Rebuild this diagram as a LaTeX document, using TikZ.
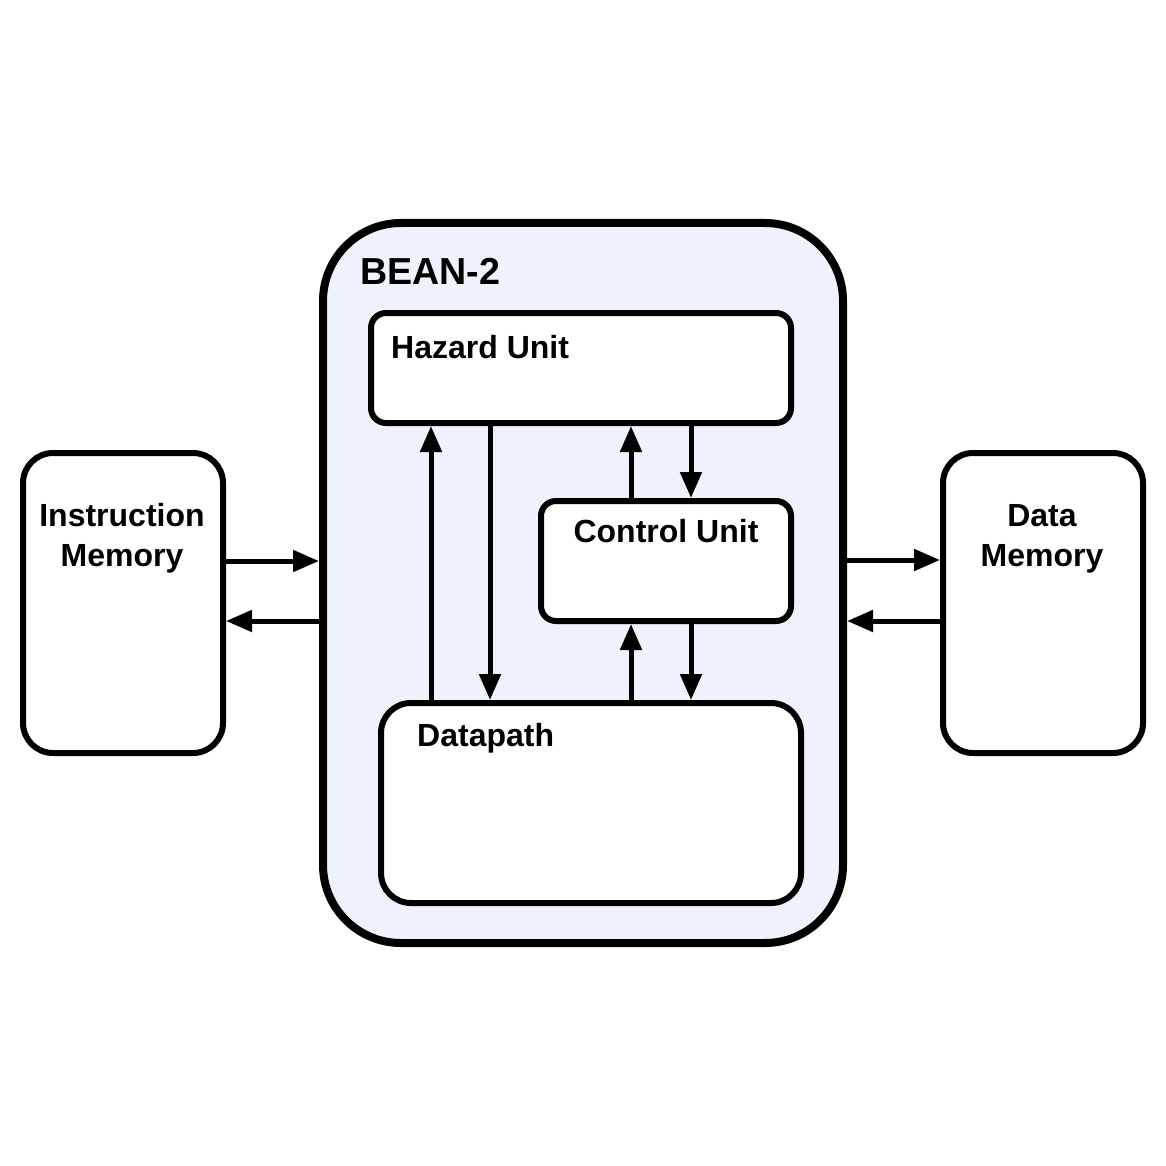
\documentclass[tikz,border=0pt]{standalone}
\usepackage{fontspec}
\setmainfont{Liberation Sans}
\usetikzlibrary{arrows.meta}
\definecolor{beanfill}{RGB}{237,242,252}
\tikzset{
 unitbox/.style={draw=black,line width=6pt,fill=white,inner sep=0pt},
 unitlbl/.style={font=\bfseries\fontsize{32}{40}\selectfont,inner sep=0pt},
 busarrow/.style={line width=5pt,-{Triangle[length=26pt,width=21pt]}}
}
\begin{document}
\begin{tikzpicture}[x=1pt,y=-1pt]
 \useasboundingbox (0,0) rectangle (1166,1166);
 \node[unitbox,line width=8pt,fill=beanfill,rounded corners=78pt,minimum width=520pt,minimum height=720pt] (bean) at (583,583) {};
 \node[unitlbl,font=\bfseries\fontsize{37.6}{44}\selectfont,anchor=base west] (beantxt) at (360,284) {BEAN-2};
 \node[unitbox,rounded corners=15pt,minimum width=420pt,minimum height=110pt] (hazard) at (581,368) {};
 \node[unitlbl,anchor=base west] (hazardtxt) at (391,358) {Hazard Unit};
 \node[unitbox,rounded corners=15pt,minimum width=250pt,minimum height=120pt] (control) at (666,561) {};
 \node[unitlbl,anchor=base] (controltxt) at (666,542) {Control Unit};
 \node[unitbox,rounded corners=30pt,minimum width=420pt,minimum height=200pt] (datapath) at (591,803) {};
 \node[unitlbl,anchor=base west] (datapathtxt) at (417,746) {Datapath};
 \node[unitbox,rounded corners=30pt,minimum width=200pt,minimum height=300pt] (imem) at (123,603) {};
 \node[unitlbl,align=center,anchor=base] (imemtxt) at (122,566) {Instruction\\Memory};
 \node[unitbox,rounded corners=30pt,minimum width=200pt,minimum height=300pt] (dmem) at (1043,603) {};
 \node[unitlbl,align=center,anchor=base] (dmemtxt) at (1042,566) {Data\\Memory};
 \draw[busarrow] (imem.east |- 0,561) -- (bean.west |- 0,561);
 \draw[busarrow] (bean.west |- 0,621) -- (imem.east |- 0,621);
 \draw[busarrow] (bean.east |- 0,560) -- (dmem.west |- 0,560);
 \draw[busarrow] (dmem.west |- 0,621) -- (bean.east |- 0,621);
 \draw[busarrow] (datapath.north -| 431,0) -- (hazard.south -| 431,0);
 \draw[busarrow] (hazard.south -| 490,0) -- (datapath.north -| 490,0);
 \draw[busarrow] (control.north -| 631,0) -- (hazard.south -| 631,0);
 \draw[busarrow] (hazard.south -| 691,0) -- (control.north -| 691,0);
 \draw[busarrow] (datapath.north -| 631,0) -- (control.south -| 631,0);
 \draw[busarrow] (control.south -| 691,0) -- (datapath.north -| 691,0);
\end{tikzpicture}
\end{document}
